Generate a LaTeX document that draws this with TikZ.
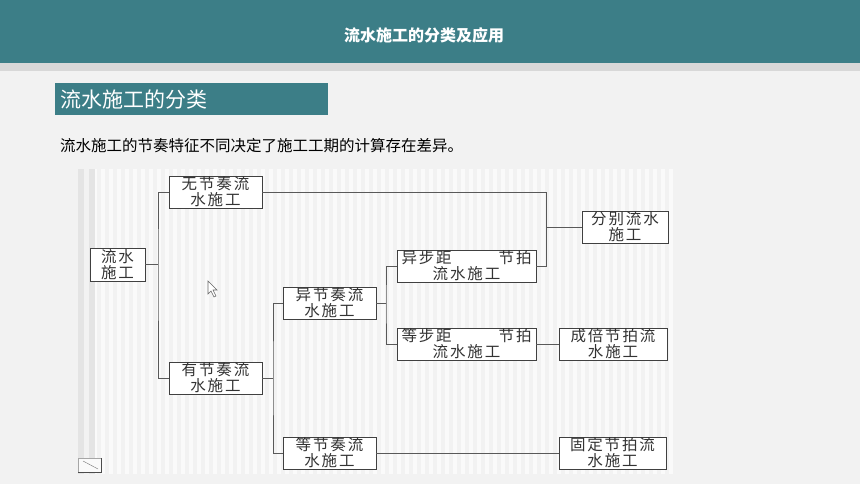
\documentclass[tikz,border=0pt]{standalone}
\usepackage{fontspec}
\setmainfont{Noto Sans CJK SC}
\newfontfamily\boxfont[LetterSpace=12]{Noto Sans CJK SC}
\usetikzlibrary{positioning}
\definecolor{slideteal}{RGB}{60,126,135}
\definecolor{slidebg}{RGB}{242,242,242}
\definecolor{barline}{RGB}{216,216,216}
\definecolor{picbg}{RGB}{250,250,250}
\definecolor{picstripe}{RGB}{242,242,242}
\definecolor{picside}{RGB}{228,228,228}
\tikzset{
	stage/.style={draw=black!75, fill=white, line width=0.9pt, inner sep=0pt, align=center, minimum height=32pt, text=black!80, font={\boxfont\fontsize{15.5}{16}\selectfont}},
	link/.style={draw=black!65, line width=0.9pt},
}

\begin{document}
\begin{tikzpicture}[x=1pt,y=-1pt]
	\useasboundingbox (0,0) rectangle (860,484);
	\fill[slidebg] (0,0) rectangle (860,484);
	\fill[slideteal] (0,0) rectangle (860,63);
	\fill[barline] (0,63) rectangle (860,71);
	\node[text=white, font=\bfseries\fontsize{16}{18}\selectfont]	(head)	at (424,35)	{流水施工的分类及应用};
	\node[anchor=north west, fill=slideteal, text=white, minimum height=32pt, text width=263pt, inner xsep=5pt, inner ysep=0pt, font=\fontsize{21}{24}\selectfont]	(sect)	at (55,83)	{流水施工的分类};
	\node[anchor=west, inner sep=0pt, font=\fontsize{15.5}{18}\selectfont]	(intro)	at (60,146)	{流水施工的节奏特征不同决定了施工工期的计算存在差异。};
	
	\fill[picbg] (78,169) rectangle (677,474);
	\foreach \x in {97,105,...,673}
		\fill[picstripe] (\x,169) rectangle ++(4,305);
	\fill[picside] (78,169) rectangle (95,474);
	\fill[picstripe] (84,169) rectangle (89,474);
	\draw[black!35, fill=picbg] (78,458) rectangle (101,472);
	\draw[black!70, line width=1pt] (78,472) -- (101,472) -- (101,458);
	\draw[black!55] (83,461) -- (98,469);
	\draw[black!60, fill=white, line width=0.6pt] (208,281) -- (208,294) -- (211,291) -- (214,297) -- (216,296) -- (213,290) -- (217,290) -- cycle;
	
	\node[stage, minimum width=55pt, minimum height=33pt]	(flow)		at (117.5,264.5)	{流水\\施工};
	\node[stage, minimum width=93pt]	(free)		at (215.5,192)	{无节奏流\\水施工};
	\node[stage, minimum width=93pt]	(rhythm)	at (215.5,378)	{有节奏流\\水施工};
	\node[stage, minimum width=93pt]	(unequal)	at (329.5,303)	{异节奏流\\水施工};
	\node[stage, minimum width=93pt]	(equal)		at (329.5,453)	{等节奏流\\水施工};
	\node[stage, minimum width=139pt]	(diffstep)	at (466.5,266)	{\makebox[130pt]{异步距\hfill 节拍}\\流水施工};
	\node[stage, minimum width=139pt]	(samestep)	at (466.5,344)	{\makebox[130pt]{等步距\hfill 节拍}\\流水施工};
	\node[stage, minimum width=86pt]	(separate)	at (625,227)	{分别流水\\施工};
	\node[stage, minimum width=108pt]	(multiple)	at (613,344)	{成倍节拍流\\水施工};
	\node[stage, minimum width=107pt]	(fixed)		at (612.5,453)	{固定节拍流\\水施工};
	
	\coordinate (j1) at (158,264.5);
	\coordinate (j2) at (273,378);
	\coordinate (j3) at (386,303);
	\coordinate (j4) at (546,266);
	
	\draw[link]	(flow.east) -- (j1);
	\draw[link]	(free.west) -| (j1) |- (rhythm.west);
	\draw[link]	(rhythm.east) -- (j2);
	\draw[link]	(unequal.west) -| (j2) |- (equal.west);
	\draw[link]	(unequal.east) -- (j3);
	\draw[link]	(diffstep.west) -| (j3) |- (samestep.west);
	\draw[link]	(free.east) -| (j4) -- (diffstep.east);
	\draw[link]	(separate.west) -- (separate.west -| j4);
	\draw[link]	(samestep) -- (multiple);
	\draw[link]	(equal) -- (fixed);
\end{tikzpicture}
\end{document}
